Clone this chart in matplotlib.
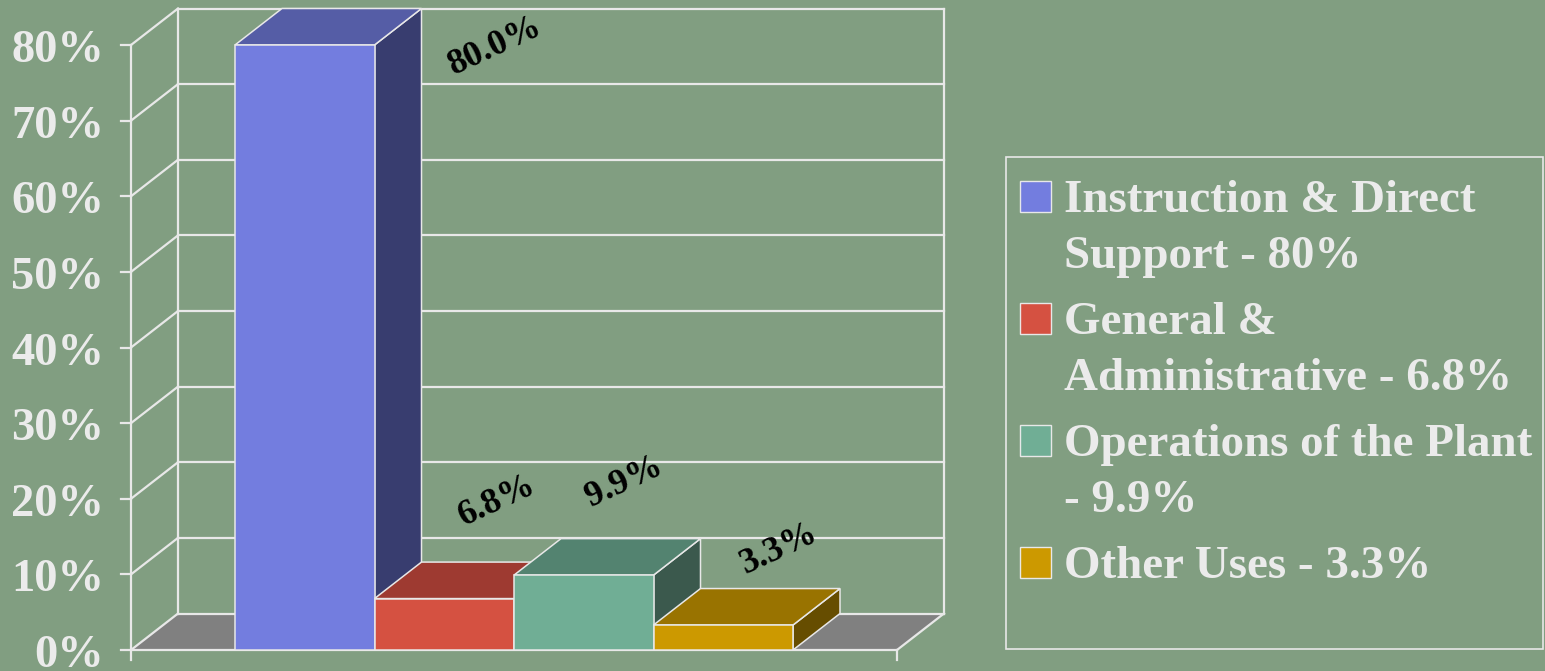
import matplotlib
matplotlib.use("Agg")
import matplotlib.pyplot as plt
from matplotlib.patches import Polygon, Rectangle

# ---------------- data ----------------
categories = ["Instruction & Direct Support", "General & Administrative",
              "Operations of the Plant", "Other Uses"]
values = [80.0, 6.8, 9.9, 3.3]
value_labels = ["80.0%", "6.8%", "9.9%", "3.3%"]
legend_labels = ["Instruction & Direct\nSupport - 80%",
                 "General &\nAdministrative - 6.8%",
                 "Operations of the Plant\n- 9.9%",
                 "Other Uses - 3.3%"]
y_ticks = [0, 10, 20, 30, 40, 50, 60, 70, 80]
y_tick_labels = ["0%", "10%", "20%", "30%", "40%", "50%", "60%", "70%", "80%"]

# ---------------- style ----------------
BG = "#819E81"
LINE = "#E8E8E8"
TXT = "#EBEBEB"
front_colors = ["#737DDF", "#D55141", "#70AE95", "#CC9900"]
top_colors = ["#555DA6", "#9E3A31", "#538370", "#997300"]
side_colors = ["#383D6F", "#7A2B24", "#3B594D", "#664D00"]
FLOOR = "#808080"
FONT = "Liberation Serif"
# label offsets (points) from the front-top centre of each bar
label_offsets = [(137, -1), (38, 70), (29, 67), (40, 55)]

W, H = 1545, 671
fig = plt.figure(figsize=(W / 100, H / 100), dpi=100, facecolor=BG)
ax = fig.add_axes([0, 0, 1, 1])
ax.axis("off")
ax.set_facecolor(BG)

# pixel layout -> data coordinate system (x in bar widths, y in percent)
BAR_PX = 139.5
CENTER0_PX = 304.75
ZERO_PY = 650
PX_PER_PCT = 7.5625
ax.set_xlim(-CENTER0_PX / BAR_PX, (W - CENTER0_PX) / BAR_PX)
ax.set_ylim(-(H - ZERO_PY) / PX_PER_PCT, ZERO_PY / PX_PER_PCT)

n = len(values)
DX = 47 / BAR_PX
DY = 36.5 / PX_PER_PCT
MARGIN = 104 / BAR_PX
x0 = -0.5 - MARGIN
x1 = n - 0.5 + MARGIN
TICK_X = 10 / BAR_PX
TICK_Y = 10 / PX_PER_PCT
ymax = y_ticks[-1]
glw = 1.6

# floor
ax.add_patch(Polygon([(x0, 0), (x1, 0), (x1 + DX, DY), (x0 + DX, DY)],
                     closed=True, facecolor=FLOOR, edgecolor="none", zorder=1))

# walls / grid
for v in y_ticks:
    ax.plot([x0 + DX, x1 + DX], [v + DY, v + DY], color=LINE, lw=glw, zorder=2)
    ax.plot([x0, x0 + DX], [v, v + DY], color=LINE, lw=glw, zorder=2)
    ax.plot([x0 - TICK_X, x0], [v, v], color=LINE, lw=glw, zorder=2)
ax.plot([x0 + DX, x0 + DX], [DY, ymax + DY], color=LINE, lw=glw, zorder=2)
ax.plot([x1 + DX, x1 + DX], [DY, ymax + DY], color=LINE, lw=glw, zorder=2)
ax.plot([x0, x0], [-TICK_Y, ymax], color=LINE, lw=glw, zorder=2)
ax.plot([x0, x1], [0, 0], color=LINE, lw=glw, zorder=2)
ax.plot([x1, x1 + DX], [0, DY], color=LINE, lw=glw, zorder=2)
ax.plot([x1, x1], [-TICK_Y, 0], color=LINE, lw=glw, zorder=2)

# bars (front faces via ax.bar, top/side faces from the same values)
xs = list(range(n))
bars = ax.bar(xs, values, width=1.0, color=front_colors,
              edgecolor=LINE, linewidth=1.1)
for i, (rect, v) in enumerate(zip(bars, values)):
    xl, xr = i - 0.5, i + 0.5
    side = Polygon([(xr, 0), (xr + DX, DY), (xr + DX, v + DY), (xr, v)],
                   closed=True, facecolor=side_colors[i], edgecolor=LINE,
                   lw=1.1, zorder=3 + i)
    top = Polygon([(xl, v), (xr, v), (xr + DX, v + DY), (xl + DX, v + DY)],
                  closed=True, facecolor=top_colors[i], edgecolor=LINE,
                  lw=1.1, zorder=3 + i + 0.1)
    ax.add_patch(side)
    ax.add_patch(top)
    rect.set_zorder(3 + i + 0.2)

# value labels
for i, (v, lab) in enumerate(zip(values, value_labels)):
    ax.annotate(lab, xy=(i, v), xytext=label_offsets[i],
                textcoords="offset points", ha="center", va="center",
                rotation=25, fontsize=26, fontweight="bold",
                family=FONT, color="black", zorder=10)

# y tick labels
for v, lab in zip(y_ticks, y_tick_labels):
    ax.text(x0 - 27 / BAR_PX, v - 17 / PX_PER_PCT, lab, ha="right",
            va="baseline", fontsize=33.5, fontweight="bold", family=FONT,
            color=TXT, zorder=10)

# legend (drawn in figure pixel coords)
def fx(px):
    return px / W


def fy(py):
    return (H - py) / H


fig.patches.append(Rectangle((fx(1006), fy(649)), fx(1543) - fx(1006),
                             fy(157) - fy(649), transform=fig.transFigure,
                             facecolor="none", edgecolor=LINE, lw=1.2))
base = 212
item_step = 122
line_step = 56.5
for i, lab in enumerate(legend_labels):
    b = base + i * item_step
    fig.patches.append(Rectangle((fx(1020), fy(b)), fx(1051) - fx(1020),
                                 fy(b - 31) - fy(b), transform=fig.transFigure,
                                 facecolor=front_colors[i], edgecolor=LINE,
                                 lw=1.0))
    for j, line in enumerate(lab.split("\n")):
        fig.text(fx(1064), fy(b + j * line_step), line, ha="left",
                 va="baseline", fontsize=33.8, fontweight="bold",
                 family=FONT, color=TXT)

fig.savefig("out.png", dpi=100, facecolor=BG)
